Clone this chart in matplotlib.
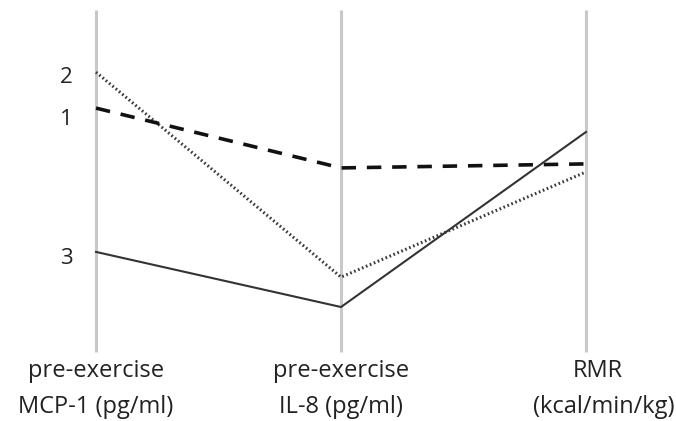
import matplotlib
matplotlib.use("Agg")
import matplotlib.pyplot as plt

# parallel coordinates, values scaled 0-100 along each axis
variables = ["pre-exercise\nMCP-1 (pg/ml)", "pre-exercise\nIL-8 (pg/ml)", "RMR\n(kcal/min/kg)"]
cluster1 = [70.8, 53.0, 54.2]   # dashed
cluster2 = [81.5, 20.5, 51.8]   # dotted
cluster3 = [28.0, 11.6, 63.7]   # solid
cluster_names = ["1", "2", "3"]

plt.rcParams['font.family'] = ['Open Sans', 'DejaVu Sans']

PX = 100 / 336  # data units per pixel (vertical)

fig = plt.figure(figsize=(6.76, 4.21), dpi=100)
ax = fig.add_axes([0, 0, 1, 1])
ax.set_xlim(-96 / 245, (676 - 96) / 245)
ax.set_ylim(-75 * PX, 346 * PX)
ax.axis('off')

x = list(range(len(variables)))
for xi in x:
    ax.plot([xi, xi], [-1.8, 100], color='#c8c8c8', lw=2.2, zorder=1, solid_capstyle='butt')

ax.plot(x, cluster3, color='#333333', lw=1.5, zorder=3)
ax.plot(x, cluster2, color='#3a3a3a', lw=2.2, ls=(0, (0.55, 0.85)), zorder=3)
ax.plot(x, cluster1, color='#111111', lw=2.6, ls=(0, (4, 3)), zorder=3)

# cluster numbers next to the first axis, slightly below each line start
label_drop = [17, 11, 12]  # px
for name, vals, d in zip(cluster_names, [cluster1, cluster2, cluster3], label_drop):
    ax.text(-23 / 245, vals[0] - d * PX, name, ha='right', va='baseline',
            fontsize=16, color='#222222')

for xi, lab in zip(x, variables):
    top, bottom = lab.split("\n")
    if xi == x[-1]:
        # last label pushed right so it stays inside the figure
        tx = (674 - 96) / 245
        ax.text(tx - 76 / 245, -31 * PX, top, ha='center', va='baseline', fontsize=17, color='#222222')
        ax.text(tx, -67 * PX, bottom, ha='right', va='baseline', fontsize=17, color='#222222')
    else:
        ax.text(xi, -31 * PX, top, ha='center', va='baseline', fontsize=17, color='#222222')
        ax.text(xi, -67 * PX, bottom, ha='center', va='baseline', fontsize=17, color='#222222')

fig.savefig("out.png", dpi=100)
